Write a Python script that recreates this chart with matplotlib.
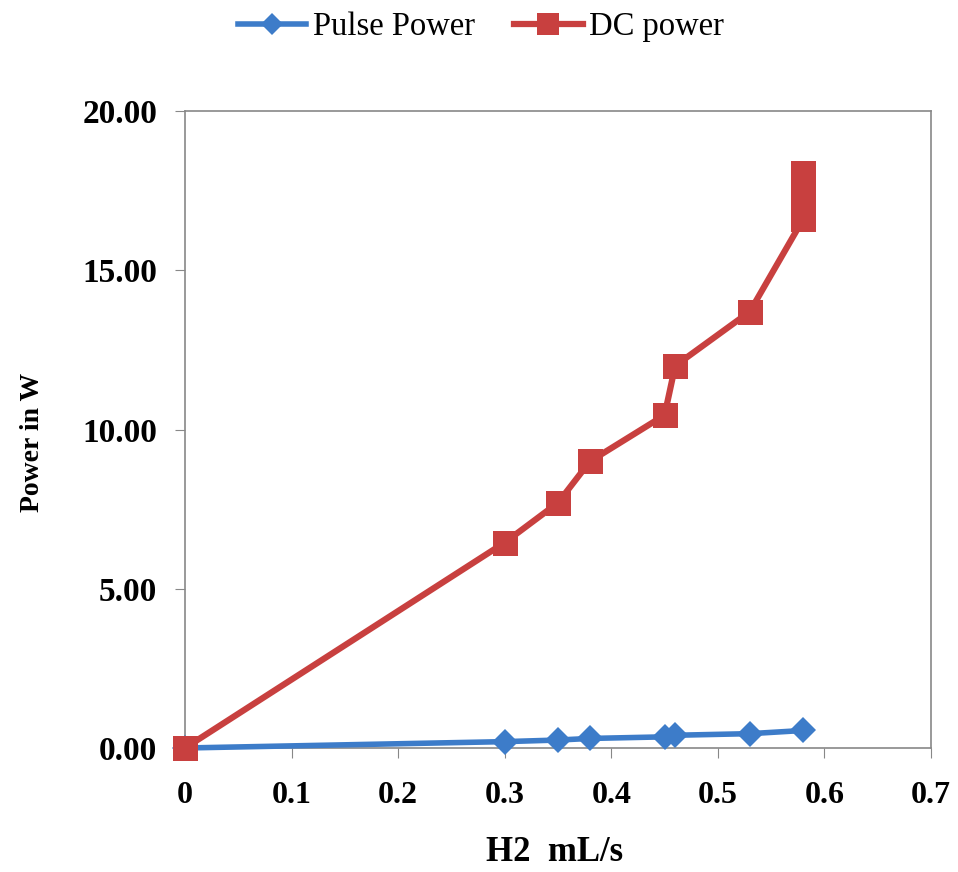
import matplotlib
matplotlib.use("Agg")
import matplotlib.pyplot as plt

h2 = [0, 0.30, 0.35, 0.38, 0.45, 0.46, 0.53, 0.58]
pulse_power = [0, 0.20, 0.25, 0.30, 0.35, 0.40, 0.45, 0.55]
h2_dc = [0, 0.30, 0.35, 0.38, 0.45, 0.46, 0.53, 0.58, 0.58, 0.58, 0.58]
dc_power = [0, 6.45, 7.70, 9.00, 10.45, 12.00, 13.70, 16.60, 17.10, 17.60, 18.05]

plt.rcParams['font.family'] = ['Liberation Serif', 'DejaVu Serif']

fig = plt.figure(figsize=(9.58, 8.72), dpi=100)
ax = fig.add_axes([0.1931, 0.1422, 0.7787, 0.7305])

ax.plot(h2, pulse_power, color='#3d7cc9', linewidth=4, label="Pulse Power",
        marker='D', markersize=13, markeredgewidth=0, clip_on=False, zorder=3)
ax.plot(h2_dc, dc_power, color='#c8403f', linewidth=4.5, label="DC power",
        marker='s', markersize=18, markeredgewidth=0, clip_on=False, zorder=4)

ax.set_xlim(0, 0.7)
ax.set_ylim(0, 20)
ax.set_xticks([0, 0.1, 0.2, 0.3, 0.4, 0.5, 0.6, 0.7])
ax.set_xticklabels(['0', '0.1', '0.2', '0.3', '0.4', '0.5', '0.6', '0.7'])
ax.set_yticks([0, 5, 10, 15, 20])
ax.set_yticklabels(['0.00', '5.00', '10.00', '15.00', '20.00'])
ax.tick_params(axis='x', labelsize=23, direction='out', length=7, color='#888888', pad=17)
ax.tick_params(axis='y', labelsize=24, direction='out', length=7, color='#888888', pad=13)
for lbl in ax.get_xticklabels() + ax.get_yticklabels():
    lbl.set_fontweight('bold')

for s in ax.spines.values():
    s.set_color('#888888')
    s.set_linewidth(1.2)

ax.set_xlabel("H2  mL/s", fontsize=25, fontweight='bold')
ax.set_ylabel("Power in W", fontsize=20, fontweight='bold')
ax.xaxis.set_label_coords(0.495, -0.138)
ax.yaxis.set_label_coords(-0.188, 0.48)

# legend across the top, no frame
fig.legend(loc='upper center', bbox_to_anchor=(0.502, 1.02), ncol=2, frameon=False,
           fontsize=23.5, handlelength=2.1, columnspacing=1.2, handletextpad=0.2,
           markerscale=0.9)

fig.savefig("out.png", dpi=100)
